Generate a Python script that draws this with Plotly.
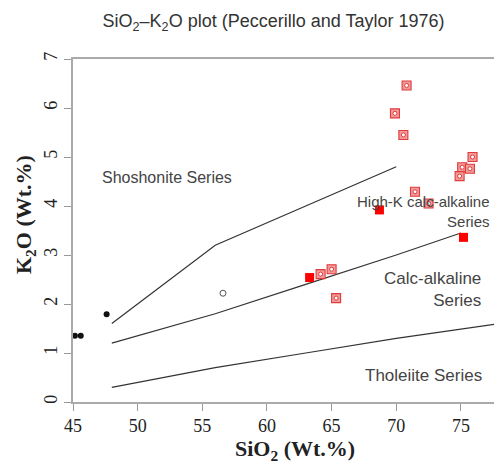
import plotly.graph_objects as go

# Peccerillo & Taylor (1976) series boundaries (SiO2, K2O)
shosh_hk_x = [48, 52, 56, 63, 70]
shosh_hk_y = [1.6, 2.4, 3.2, 4.0, 4.8]
hk_ca_x = [48, 52, 56, 63, 70, 75]
hk_ca_y = [1.2, 1.5, 1.8, 2.4, 3.0, 3.45]
ca_th_x = [48, 52, 56, 63, 70, 78]
ca_th_y = [0.3, 0.5, 0.7, 1.0, 1.3, 1.6]

# Samples
basalt_sio2 = [45.15, 45.6, 47.6]
basalt_k2o = [1.35, 1.35, 1.79]
andesite_sio2 = [56.6]
andesite_k2o = [2.22]
red_solid_sio2 = [63.3, 68.7, 75.2]
red_solid_k2o = [2.54, 3.92, 3.36]
red_boxed_sio2 = [64.15, 65.0, 65.35, 70.8, 69.9, 70.55, 75.9, 75.1, 75.7, 74.9, 71.45, 72.5]
red_boxed_k2o = [2.61, 2.71, 2.12, 6.46, 5.89, 5.45, 5.0, 4.79, 4.76, 4.61, 4.29, 4.05]

x_ticks = [45, 50, 55, 60, 65, 70, 75]
y_ticks = [0, 1, 2, 3, 4, 5, 6, 7]

# (text, SiO2, K2O, anchor, font size)
series_labels = [
    ("Shoshonite Series", 52.27, 4.59, "center", 16),
    ("High-K calc-alkaline<br>Series", 77.4, 3.89, "right", 15),
    ("Calc-alkaline<br>Series", 76.7, 2.29, "right", 17),
    ("Tholeiite Series", 76.8, 0.55, "right", 17),
]

SERIF = "Liberation Serif"
SANS = "Liberation Sans"

fig = go.Figure()

for xs, ys in [(shosh_hk_x, shosh_hk_y), (hk_ca_x, hk_ca_y), (ca_th_x, ca_th_y)]:
    fig.add_trace(go.Scatter(x=xs, y=ys, mode="lines",
                             line=dict(color="#333333", width=1.2),
                             hoverinfo="skip", showlegend=False))

for text, x, y, align, size in series_labels:
    fig.add_annotation(x=x, y=y, text=text, showarrow=False,
                       xanchor=align, yanchor="middle", align=align,
                       font=dict(family=SANS, size=size, color="#444444"))

fig.add_trace(go.Scatter(x=basalt_sio2, y=basalt_k2o, mode="markers",
                         marker=dict(symbol="circle", size=6, color="#111111"),
                         showlegend=False))
fig.add_trace(go.Scatter(x=andesite_sio2, y=andesite_k2o, mode="markers",
                         marker=dict(symbol="circle-open", size=6, color="#555555",
                                     line=dict(width=1)),
                         showlegend=False))
fig.add_trace(go.Scatter(x=red_boxed_sio2, y=red_boxed_k2o, mode="markers",
                         marker=dict(symbol="square", size=9, color="#f29a9a",
                                     line=dict(color="#e03a3a", width=1.1)),
                         showlegend=False))
fig.add_trace(go.Scatter(x=red_boxed_sio2, y=red_boxed_k2o, mode="markers",
                         marker=dict(symbol="circle", size=4, color="#ffffff",
                                     line=dict(color="#e03a3a", width=1)),
                         hoverinfo="skip", showlegend=False))
fig.add_trace(go.Scatter(x=red_solid_sio2, y=red_solid_k2o, mode="markers",
                         marker=dict(symbol="square", size=9, color="#ff0000"),
                         showlegend=False))

fig.update_layout(
    width=494, height=466,
    margin=dict(l=73, r=0, t=59, b=64),
    paper_bgcolor="white", plot_bgcolor="white",
    font=dict(family=SERIF, size=18, color="#222222"),
)
fig.update_layout(title_text="SiO<sub>2</sub>\u2013K<sub>2</sub>O plot (Peccerillo and Taylor 1976)",
                  title_x=273.5 / 494, title_xref="container", title_xanchor="center",
                  title_y=1 - 21 / 466, title_yref="container", title_yanchor="middle",
                  title_font_family=SANS, title_font_size=18, title_font_color="#333333")
fig.update_xaxes(range=[45, 77.56], tickmode="array", tickvals=x_ticks,
                 ticks="outside", ticklen=7, tickcolor="#999999",
                 showline=True, linecolor="#aaaaaa", linewidth=1.5,
                 mirror=True, showgrid=False, zeroline=False,
                 tickfont_family=SERIF, tickfont_size=18, tickfont_color="#222222")
fig.update_yaxes(range=[0, 7], tickmode="array", tickvals=y_ticks,
                 ticks="outside", ticklen=7, tickcolor="#999999",
                 showline=True, linecolor="#aaaaaa", linewidth=1.5,
                 showgrid=False, zeroline=False, tickangle=-90,
                 tickfont_family=SERIF, tickfont_size=18, tickfont_color="#222222")

fig.add_annotation(xref="paper", yref="paper", x=(295 - 73) / 421, y=(402 - 450) / 343,
                   text="<b>SiO<sub>2</sub> (Wt.%)</b>", showarrow=False,
                   xanchor="center", yanchor="middle",
                   font=dict(family=SERIF, size=22, color="#222222"))
fig.add_annotation(xref="paper", yref="paper", x=(25 - 73) / 421, y=(402 - 215) / 343,
                   text="<b>K<sub>2</sub>O (Wt.%)</b>", showarrow=False, textangle=-90,
                   xanchor="center", yanchor="middle",
                   font=dict(family=SERIF, size=22, color="#222222"))

fig.write_html("out.html")
